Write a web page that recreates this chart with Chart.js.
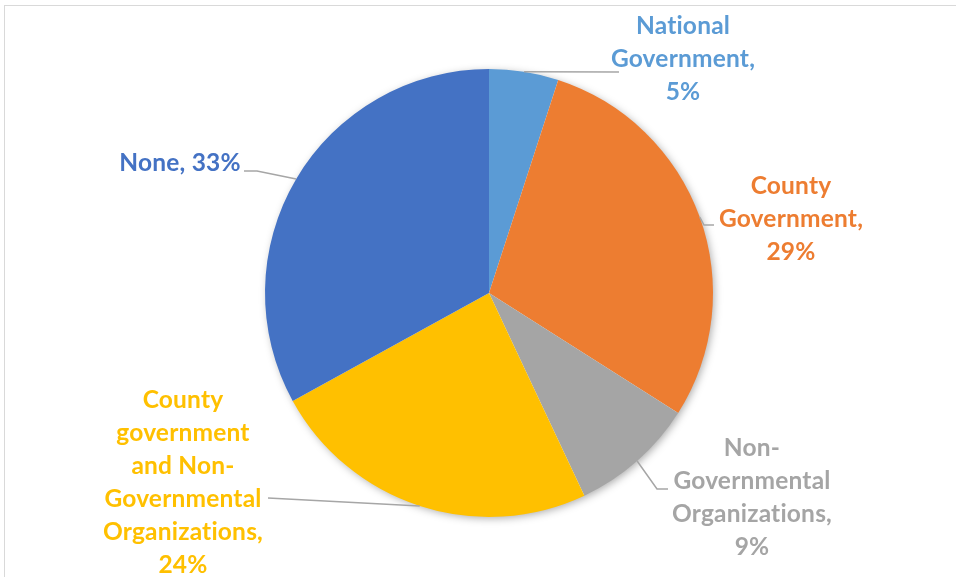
<!DOCTYPE html>
<html>
<head>
<meta charset="utf-8">
<script src="https://cdn.jsdelivr.net/npm/chart.js@4.4.1/dist/chart.umd.min.js"></script>
<style>
  html, body { margin: 0; padding: 0; background: #fff; }
  #wrap { width: 956px; height: 577px; }
</style>
</head>
<body>
<div id="wrap"><canvas id="myChart" width="956" height="577"></canvas></div>
<script>
// Support for county development, share of respondents
const categories = ['National Government', 'County Government', 'Non-Governmental Organizations',
    'County government and Non-Governmental Organizations', 'None'];
const shares = [5, 29, 9, 24, 33];
const sliceColors = ['#5B9BD5', '#ED7D31', '#A5A5A5', '#FFC000', '#4472C4'];

// how each category name is wrapped in its label (share is appended as the last line)
const nameLines = [
    ['National', 'Government,'],
    ['County', 'Government,'],
    ['Non-', 'Governmental', 'Organizations,'],
    ['County', 'government', 'and Non-', 'Governmental', 'Organizations,'],
    []
];

// label placement relative to the pie centre: text centre x, first line y, leader elbow and end
const labelLayout = [
    { dx: 194, dy: -267, elbow: null, end: [130, -221] },
    { dx: 302, dy: -107, elbow: [215, -68], end: [225, -68] },
    { dx: 263, dy: 155, elbow: [168, 196], end: [179, 196] },
    { dx: -306, dy: 107, elbow: null, end: [-221, 205] },
    { dx: -309, dy: -130, elbow: [-232, -122], end: [-245, -122] }
];

const FONT = 'bold 24.5px Lato, "Open Sans", sans-serif';
const LINE_H = 33;

const frameAndShadow = {
    id: 'frameAndShadow',
    beforeDraw(chart) {
        const ctx = chart.ctx;
        ctx.save();
        ctx.strokeStyle = '#D9D9D9';
        ctx.lineWidth = 1;
        ctx.strokeRect(4.5, 5.5, chart.width + 20, chart.height + 20);
        ctx.restore();
    },
    beforeDatasetsDraw(chart) {
        const arc = chart.getDatasetMeta(0).data[0];
        const ctx = chart.ctx;
        ctx.save();
        ctx.shadowColor = 'rgba(0,0,0,0.35)';
        ctx.shadowBlur = 8;
        ctx.shadowOffsetX = 2;
        ctx.shadowOffsetY = 2;
        ctx.fillStyle = '#fff';
        ctx.beginPath();
        ctx.arc(arc.x, arc.y, arc.outerRadius - 1, 0, Math.PI * 2);
        ctx.fill();
        ctx.restore();
    }
};

const sliceLabels = {
    id: 'sliceLabels',
    afterDatasetsDraw(chart) {
        const ctx = chart.ctx;
        const arcs = chart.getDatasetMeta(0).data;
        arcs.forEach((arc, i) => {
            const lay = labelLayout[i];
            const mid = (arc.startAngle + arc.endAngle) / 2;
            const sx = arc.x + Math.cos(mid) * arc.outerRadius;
            const sy = arc.y + Math.sin(mid) * arc.outerRadius;

            // leader line
            ctx.save();
            ctx.strokeStyle = '#A6A6A6';
            ctx.lineWidth = 1.5;
            ctx.beginPath();
            ctx.moveTo(sx, sy);
            if (lay.elbow) ctx.lineTo(arc.x + lay.elbow[0], arc.y + lay.elbow[1]);
            ctx.lineTo(arc.x + lay.end[0], arc.y + lay.end[1]);
            ctx.stroke();
            ctx.restore();

            // label text
            const pct = shares[i] + '%';
            const lines = nameLines[i].length ? nameLines[i].concat([pct])
                : [categories[i] + ', ' + pct];
            ctx.save();
            ctx.font = FONT;
            ctx.letterSpacing = '0.2px'; // keeps "ti" from joining into a ligature
            ctx.fillStyle = sliceColors[i];
            ctx.textAlign = 'center';
            ctx.textBaseline = 'middle';
            lines.forEach((t, k) => {
                ctx.fillText(t, arc.x + lay.dx, arc.y + lay.dy + k * LINE_H);
            });
            ctx.restore();
        });
    }
};

const ctx = document.getElementById('myChart').getContext('2d');
const myChart = new Chart(ctx, {
    type: 'pie',
    data: {
        labels: categories,
        datasets: [{
            data: shares,
            backgroundColor: sliceColors,
            borderWidth: 0
        }]
    },
    options: {
        responsive: false,
        animation: false,
        layout: { padding: { left: 265, right: 243, top: 69, bottom: 60 } },
        plugins: {
            legend: { display: false },
            tooltip: { enabled: false }
        }
    },
    plugins: [frameAndShadow, sliceLabels]
});
</script>
</body>
</html>
